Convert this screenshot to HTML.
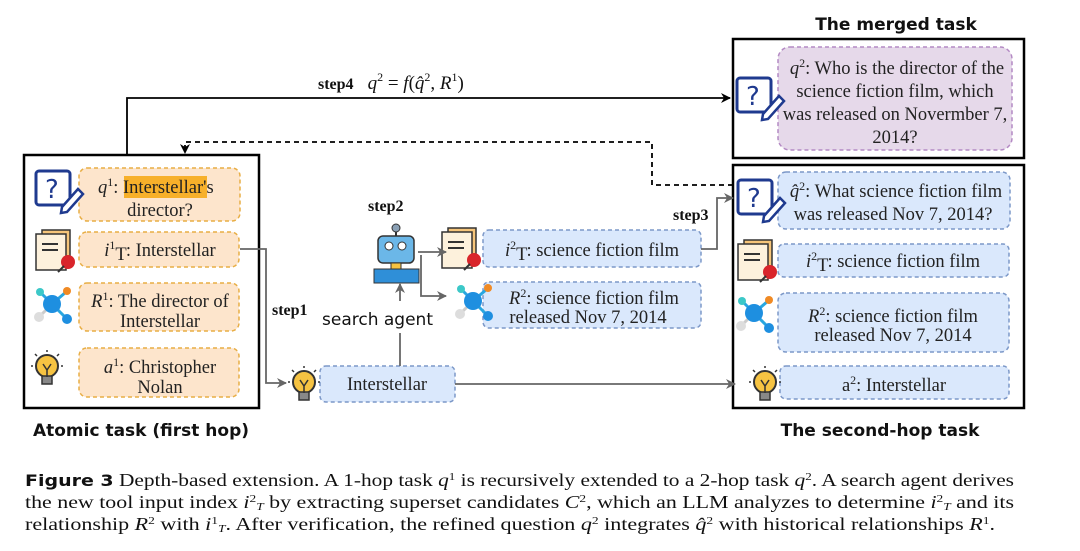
<!DOCTYPE html>
<html><head><meta charset="utf-8"><style>
html,body{margin:0;padding:0;background:#fff;}
svg{display:block;}
.s{font-family:"Liberation Serif",serif;font-size:18.5px;fill:#222;}
.t{font-family:"DejaVu Sans",sans-serif;font-weight:bold;font-size:17px;fill:#111;}
.st{font-family:"Liberation Serif",serif;font-weight:bold;font-size:16px;fill:#111;}
.c{font-family:"Liberation Serif",serif;font-size:18px;fill:#111;}
</style></head><body>
<svg width="1080" height="551" viewBox="0 0 1080 551" xmlns="http://www.w3.org/2000/svg">
<defs>
<marker id="ab" markerWidth="10" markerHeight="10" refX="9" refY="5" orient="auto" markerUnits="userSpaceOnUse"><path d="M0,0 L10,5 L0,10 L3,5z" fill="#000"/></marker>
<marker id="ag" markerWidth="10" markerHeight="10" refX="9" refY="5" orient="auto" markerUnits="userSpaceOnUse"><path d="M0,0 L10,5 L0,10 L3,5z" fill="#666"/></marker>
<g id="qi"><rect x="0" y="0" width="34" height="34" rx="3" fill="#fff" stroke="#1f3a8f" stroke-width="3"/><text x="9" y="27" font-family="DejaVu Sans" font-size="26" fill="#1f3a8f">?</text><path d="M26,36 L42,18 L47,23 L31,41 L25,42z" fill="#fff" stroke="#1f3a8f" stroke-width="2.5"/></g>
<g id="doc"><rect x="6" y="0" width="28" height="34" fill="#f6c57a" stroke="#333" stroke-width="1.5"/><rect x="0" y="4" width="30" height="36" fill="#fdf1dc" stroke="#333" stroke-width="1.5"/><line x1="6" y1="14" x2="22" y2="14" stroke="#333" stroke-width="2"/><line x1="6" y1="20" x2="22" y2="20" stroke="#333" stroke-width="2"/><circle cx="32" cy="32" r="7" fill="#d9252b"/><line x1="28" y1="36" x2="22" y2="42" stroke="#333" stroke-width="2"/></g>
<g id="net"><line x1="16" y1="16" x2="4" y2="4" stroke="#29a7e0" stroke-width="3"/><line x1="16" y1="16" x2="30" y2="4" stroke="#29a7e0" stroke-width="3"/><line x1="16" y1="16" x2="30" y2="30" stroke="#29a7e0" stroke-width="3"/><line x1="16" y1="16" x2="4" y2="28" stroke="#ccc" stroke-width="3"/><circle cx="16" cy="16" r="9" fill="#1e8fe0"/><circle cx="4" cy="4" r="4" fill="#3cc8c8"/><circle cx="31" cy="3" r="4" fill="#f08a24"/><circle cx="31" cy="31" r="5" fill="#1e8fe0"/><circle cx="3" cy="29" r="5" fill="#ddd"/></g>
<g id="bulb"><circle cx="16" cy="16" r="11" fill="#f6c342" stroke="#333" stroke-width="2"/><rect x="11" y="26" width="10" height="8" fill="#888" stroke="#333" stroke-width="1.5"/><path d="M12,14 L16,20 L20,14 M16,20 V27" stroke="#333" stroke-width="1.5" fill="none"/><g stroke="#333" stroke-width="1.5"><line x1="16" y1="0" x2="16" y2="2"/><line x1="0" y1="16" x2="2" y2="16"/><line x1="30" y1="16" x2="32" y2="16"/><line x1="4" y1="4" x2="6" y2="6"/><line x1="28" y1="4" x2="26" y2="6"/></g></g>
</defs>

<text class="t" x="896" y="30" text-anchor="middle">The merged task</text>
<text class="t" x="141" y="436" text-anchor="middle">Atomic task (first hop)</text>
<text class="t" x="880" y="436" text-anchor="middle">The second-hop task</text>

<rect x="24" y="155" width="235" height="253" fill="none" stroke="#000" stroke-width="2.5"/>
<rect x="733" y="39" width="291" height="119" fill="none" stroke="#000" stroke-width="2.5"/>
<rect x="733" y="165" width="291" height="243" fill="none" stroke="#000" stroke-width="2.5"/>

<g fill="#fde5cc" stroke="#e8ae45" stroke-width="1.5" stroke-dasharray="4,3">
<rect x="79" y="168" width="161" height="53" rx="8"/>
<rect x="79" y="232" width="160" height="35" rx="8"/>
<rect x="79" y="283" width="160" height="48" rx="8"/>
<rect x="79" y="348" width="160" height="49" rx="8"/>
</g>
<rect x="124" y="176" width="83" height="22" fill="#f7b02a"/>
<text class="s" x="98" y="193"><tspan font-style="italic">q</tspan><tspan font-size="12" dy="-7">1</tspan><tspan dy="7">: Interstellar's</tspan></text>
<text class="s" x="160" y="216" text-anchor="middle">director?</text>
<text class="s" x="160" y="256" text-anchor="middle"><tspan font-style="italic">i</tspan><tspan font-size="12" dy="-7">1</tspan><tspan dy="11">T</tspan><tspan dy="-4">: Interstellar</tspan></text>
<text class="s" x="160" y="307" text-anchor="middle"><tspan font-style="italic">R</tspan><tspan font-size="12" dy="-7">1</tspan><tspan dy="7">: The director of</tspan></text>
<text class="s" x="160" y="327" text-anchor="middle">Interstellar</text>
<text class="s" x="160" y="373" text-anchor="middle"><tspan font-style="italic">a</tspan><tspan font-size="12" dy="-7">1</tspan><tspan dy="7">: Christopher</tspan></text>
<text class="s" x="160" y="393" text-anchor="middle">Nolan</text>

<use href="#qi" x="36" y="171"/>
<use href="#doc" x="36" y="230"/>
<use href="#net" x="36" y="288"/>
<use href="#bulb" x="31" y="350"/>

<g fill="#dae8fc" stroke="#7c98c8" stroke-width="1.5" stroke-dasharray="4,3">
<rect x="320" y="366" width="135" height="36" rx="6"/>
<rect x="483" y="230" width="218" height="37" rx="6"/>
<rect x="483" y="282" width="218" height="46" rx="6"/>
<rect x="778" y="172" width="232" height="57" rx="8"/>
<rect x="778" y="244" width="231" height="33" rx="6"/>
<rect x="778" y="293" width="231" height="59" rx="8"/>
<rect x="780" y="366" width="229" height="33" rx="6"/>
</g>
<rect x="778" y="47" width="234" height="103" rx="12" fill="#e6d9ea" stroke="#b48ac4" stroke-width="1.5" stroke-dasharray="4,3"/>

<text class="s" x="387" y="390" text-anchor="middle">Interstellar</text>
<text class="s" x="592" y="256" text-anchor="middle"><tspan font-style="italic">i</tspan><tspan font-size="12" dy="-7">2</tspan><tspan dy="11">T</tspan><tspan dy="-4">: science fiction film</tspan></text>
<text class="s" x="594" y="304" text-anchor="middle"><tspan font-style="italic">R</tspan><tspan font-size="12" dy="-7">2</tspan><tspan dy="7">: science fiction film</tspan></text>
<text class="s" x="588" y="323" text-anchor="middle">released Nov 7, 2014</text>

<text class="s" x="897" y="74" text-anchor="middle"><tspan font-style="italic">q</tspan><tspan font-size="12" dy="-7">2</tspan><tspan dy="7">: Who is the director of the</tspan></text>
<text class="s" x="895" y="97" text-anchor="middle">science fiction film, which</text>
<text class="s" x="895" y="120" text-anchor="middle">was released on Novermber 7,</text>
<text class="s" x="895" y="143" text-anchor="middle">2014?</text>

<text class="s" x="896" y="197" text-anchor="middle"><tspan font-style="italic">q̂</tspan><tspan font-size="12" dy="-7">2</tspan><tspan dy="7">: What science fiction film</tspan></text>
<text class="s" x="893" y="220" text-anchor="middle">was released Nov 7, 2014?</text>
<text class="s" x="893" y="267" text-anchor="middle"><tspan font-style="italic">i</tspan><tspan font-size="12" dy="-7">2</tspan><tspan dy="11">T</tspan><tspan dy="-4">: science fiction film</tspan></text>
<text class="s" x="893" y="322" text-anchor="middle"><tspan font-style="italic">R</tspan><tspan font-size="12" dy="-7">2</tspan><tspan dy="7">: science fiction film</tspan></text>
<text class="s" x="893" y="341" text-anchor="middle">released Nov 7, 2014</text>
<text class="s" x="894" y="391" text-anchor="middle">a<tspan font-size="12" dy="-7">2</tspan><tspan dy="7">: Interstellar</tspan></text>

<use href="#qi" x="738" y="180"/>
<use href="#doc" x="738" y="240"/>
<use href="#net" x="738" y="297"/>
<use href="#bulb" x="749" y="366"/>
<use href="#qi" x="737" y="78"/>
<use href="#doc" x="442" y="228"/>
<use href="#net" x="457" y="285"/>
<use href="#bulb" x="288" y="366"/>

<g>
<circle cx="396" cy="228" r="4" fill="#8aa0b5" stroke="#333"/>
<line x1="396" y1="232" x2="396" y2="236" stroke="#333" stroke-width="2"/>
<rect x="378" y="236" width="36" height="27" rx="5" fill="#6bb7e8" stroke="#333" stroke-width="1.5"/>
<circle cx="389" cy="246" r="4" fill="#fff" stroke="#333"/><circle cx="402" cy="246" r="4" fill="#fff" stroke="#333"/>
<rect x="391" y="263" width="10" height="6" fill="#f6c342" stroke="#333"/>
<rect x="374" y="269" width="45" height="14" fill="#2f8fd8" stroke="#333"/>
</g>

<text class="st" x="368" y="211">step2</text>
<text class="st" x="272" y="315">step1</text>
<text class="st" x="673" y="220">step3</text>
<text font-family="DejaVu Sans" font-size="17" x="322" y="325" fill="#111">search agent</text>
<text class="st" x="318" y="89">step4 <tspan font-weight="normal" font-style="italic" font-size="19" dx="10">q</tspan><tspan font-weight="normal" font-size="12" dy="-8">2</tspan><tspan font-weight="normal" font-size="19" dy="8"> = </tspan><tspan font-weight="normal" font-style="italic" font-size="19">f</tspan><tspan font-weight="normal" font-size="19">(</tspan><tspan font-weight="normal" font-style="italic" font-size="19">q̂</tspan><tspan font-weight="normal" font-size="12" dy="-8">2</tspan><tspan font-weight="normal" font-size="19" dy="8">, </tspan><tspan font-weight="normal" font-style="italic" font-size="19">R</tspan><tspan font-weight="normal" font-size="12" dy="-8">1</tspan><tspan font-weight="normal" font-size="19" dy="8">)</tspan></text>

<path d="M127,155 V98 H730" fill="none" stroke="#000" stroke-width="1.8" marker-end="url(#ab)"/>
<path d="M733,185 H652 V142 H185 V153" fill="none" stroke="#000" stroke-width="1.8" stroke-dasharray="5,4" marker-end="url(#ab)"/>
<g fill="none" stroke="#666" stroke-width="1.8">
<path d="M240,249 H266 V383 H286" marker-end="url(#ag)"/>
<path d="M455,384 H735" marker-end="url(#ag)"/>
<path d="M400,366 V333"/>
<path d="M400,301 V284" marker-end="url(#ag)"/>
<path d="M418,252 H446" marker-end="url(#ag)"/>
<path d="M421,255 V296 H446" marker-end="url(#ag)"/>
<path d="M701,249 H717 V198 H733" marker-end="url(#ag)"/>
</g>

<text class="c" x="25" y="486" textLength="989" lengthAdjust="spacingAndGlyphs"><tspan font-family="DejaVu Sans" font-weight="bold" font-size="16">Figure 3</tspan> Depth-based extension. A 1-hop task <tspan font-style="italic">q</tspan><tspan font-size="11" dy="-6">1</tspan><tspan dy="6"> is recursively extended to a 2-hop task </tspan><tspan font-style="italic">q</tspan><tspan font-size="11" dy="-6">2</tspan><tspan dy="6">. A search agent derives</tspan></text>
<text class="c" x="25" y="508" textLength="989" lengthAdjust="spacingAndGlyphs">the new tool input index <tspan font-style="italic">i</tspan><tspan font-size="11" dy="-6">2</tspan><tspan font-size="11" dy="8" font-style="italic">T</tspan><tspan dy="-2"> by extracting superset candidates </tspan><tspan font-style="italic">C</tspan><tspan font-size="11" dy="-6">2</tspan><tspan dy="6">, which an LLM analyzes to determine </tspan><tspan font-style="italic">i</tspan><tspan font-size="11" dy="-6">2</tspan><tspan font-size="11" dy="8" font-style="italic">T</tspan><tspan dy="-2"> and its</tspan></text>
<text class="c" x="25" y="530" textLength="970" lengthAdjust="spacingAndGlyphs">relationship <tspan font-style="italic">R</tspan><tspan font-size="11" dy="-6">2</tspan><tspan dy="6"> with </tspan><tspan font-style="italic">i</tspan><tspan font-size="11" dy="-6">1</tspan><tspan font-size="11" dy="8" font-style="italic">T</tspan><tspan dy="-2">. After verification, the refined question </tspan><tspan font-style="italic">q</tspan><tspan font-size="11" dy="-6">2</tspan><tspan dy="6"> integrates </tspan><tspan font-style="italic">q̂</tspan><tspan font-size="11" dy="-6">2</tspan><tspan dy="6"> with historical relationships </tspan><tspan font-style="italic">R</tspan><tspan font-size="11" dy="-6">1</tspan><tspan dy="6">.</tspan></text>
</svg>
</body></html>
